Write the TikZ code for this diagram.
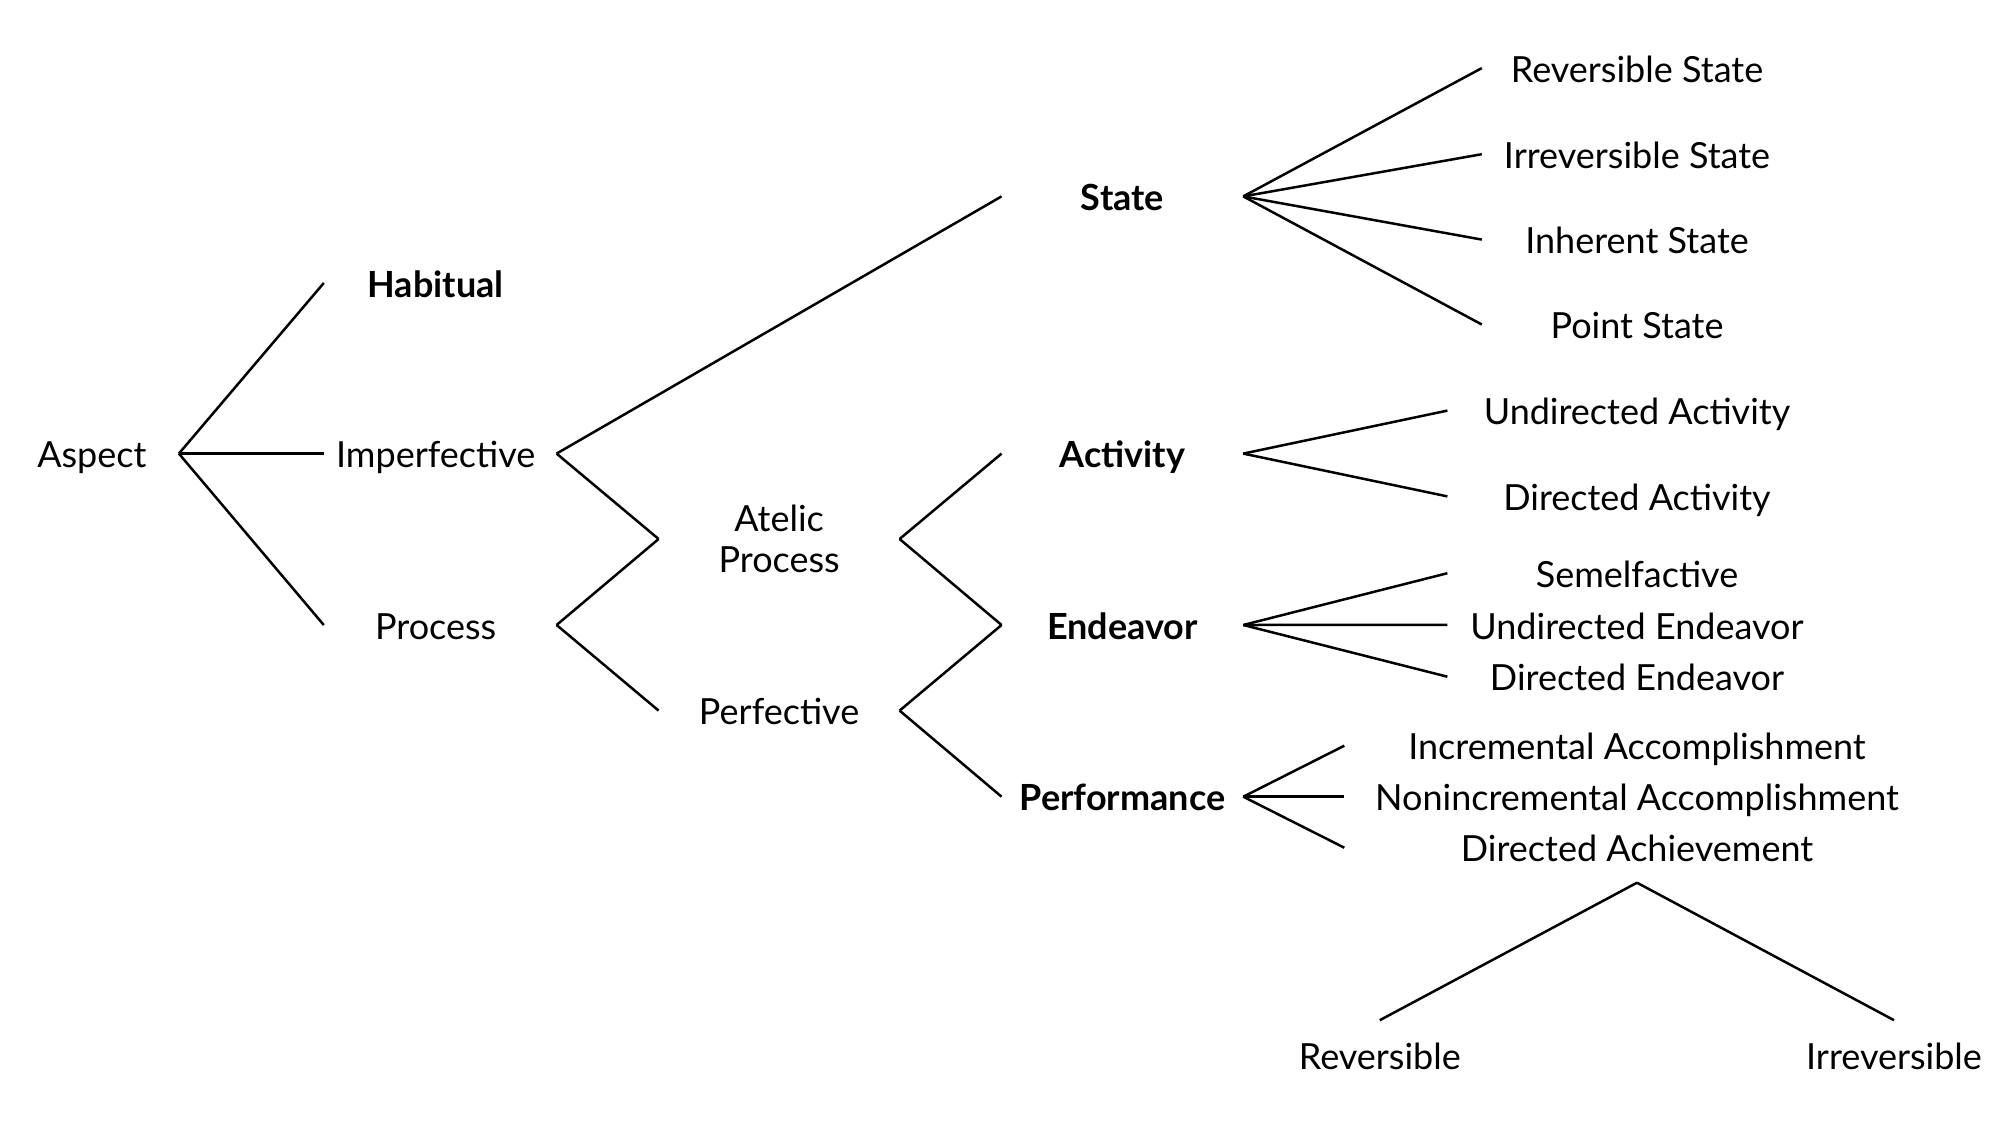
\documentclass[tikz,border=0pt]{standalone}
\usepackage{fontspec}
\setmainfont{Lato}
\newcommand\lowr[1]{\raisebox{-5pt}{#1}}
\begin{document}
\fontsize{36}{41.6}\selectfont
\begin{tikzpicture}[x=1pt,y=-1pt,
  font=\fontsize{36}{41.6}\selectfont,
  every node/.style={inner sep=0pt, anchor=mid},
  bnode/.style={font=\fontsize{36}{41.6}\selectfont\bfseries},
  conn/.style={draw=black, line width=2.5pt}]
\useasboundingbox (0,0) rectangle (2010,1132);

% column 0
\node[minimum width=173.6] (asp) at (91.9,453.6) {\lowr{Aspect}};
% column 1
\node[bnode, minimum width=232.4] (hab) at (440.2,283) {\lowr{\hspace*{-9pt}Habitual}};
\node[minimum width=232.4] (imp) at (440.2,453.6) {\lowr{\hspace*{-9pt}Imperfective}};
\node[minimum width=232.4] (pro) at (440.2,625) {\lowr{\hspace*{-9pt}Process}};
% column 2
\node[anchor=center, align=center, minimum width=240.6] (atl) at (779.1,539) {\raisebox{-1.3pt}{Atelic}\\\raisebox{-1.3pt}{Process}};
\node[minimum width=240.6] (per) at (779.1,710.6) {\lowr{Perfective}};
% column 3
\node[bnode, minimum width=241.3] (sta) at (1122.4,196.4) {\lowr{State}};
\node[bnode, minimum width=241.3] (act) at (1122.4,453.6) {\lowr{Activity}};
\node[bnode, minimum width=241.3] (end) at (1122.4,625) {\lowr{Endeavor}};
\node[bnode, minimum width=241.3] (prf) at (1122.4,796.7) {\lowr{Performance}};
% column 4
\node[minimum width=310] (rs) at (1637,68.1) {\lowr{Reversible State}};
\node[minimum width=310] (is) at (1637,154.2) {\lowr{Irreversible State}};
\node[minimum width=310] (ins) at (1637,239.6) {\lowr{Inherent State}};
\node[minimum width=310] (ps) at (1637,324.5) {\lowr{Point State}};
\node[minimum width=378.8] (ua) at (1637,410.6) {\lowr{Undirected Activity}};
\node[minimum width=378.8] (da) at (1637,496.4) {\lowr{Directed Activity}};
\node[minimum width=378.8] (sem) at (1637,573.2) {\lowr{Semelfactive}};
\node[minimum width=378.8] (ue) at (1637,624.9) {\lowr{Undirected Endeavor}};
\node[minimum width=378.8] (de) at (1637,676.7) {\lowr{Directed Endeavor}};
\node[minimum width=585] (ia) at (1637,745.7) {\lowr{Incremental Accomplishment}};
\node[minimum width=585] (na) at (1637,796.7) {\lowr{Nonincremental Accomplishment}};
\node[minimum width=585] (dach) at (1637,847.7) {\lowr{Directed Achievement}};
% bottom
\node (rev) at (1379.8,1055) {\lowr{Reversible}};
\node (irr) at (1894,1055) {\lowr{Irreversible}};

% connectors
\draw[conn] (asp.mid east) -- (hab.mid west);
\draw[conn] (asp.mid east) -- (imp.mid west);
\draw[conn] (asp.mid east) -- (pro.mid west);
\draw[conn] (imp.mid east) -- (sta.mid west);
\draw[conn] (imp.mid east) -- (atl.west);
\draw[conn] (pro.mid east) -- (atl.west);
\draw[conn] (pro.mid east) -- (per.mid west);
\draw[conn] (atl.east) -- (act.mid west);
\draw[conn] (atl.east) -- (end.mid west);
\draw[conn] (per.mid east) -- (end.mid west);
\draw[conn] (per.mid east) -- (prf.mid west);
\draw[conn] (sta.mid east) -- (rs.mid west);
\draw[conn] (sta.mid east) -- (is.mid west);
\draw[conn] (sta.mid east) -- (ins.mid west);
\draw[conn] (sta.mid east) -- (ps.mid west);
\draw[conn] (act.mid east) -- (ua.mid west);
\draw[conn] (act.mid east) -- (da.mid west);
\draw[conn] (end.mid east) -- (sem.mid west);
\draw[conn] (end.mid east) -- (ue.mid west);
\draw[conn] (end.mid east) -- (de.mid west);
\draw[conn] (prf.mid east) -- (ia.mid west);
\draw[conn] (prf.mid east) -- (na.mid west);
\draw[conn] (prf.mid east) -- (dach.mid west);
\draw[conn] ([yshift=-35pt]dach.mid) -- ([yshift=34.8pt]rev.mid);
\draw[conn] ([yshift=-35pt]dach.mid) -- ([yshift=34.8pt]irr.mid);
\end{tikzpicture}
\end{document}
